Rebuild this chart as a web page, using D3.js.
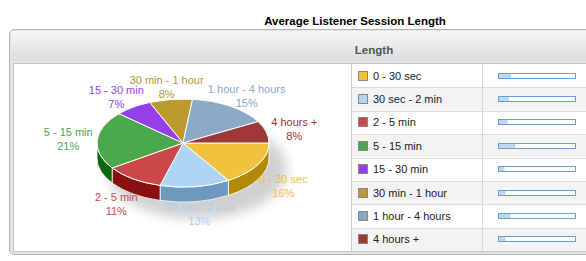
<!DOCTYPE html>
<html><head><meta charset="utf-8">
<script src="https://cdn.jsdelivr.net/npm/d3@7"></script>
<style>
html,body{margin:0;padding:0;background:#fff;}
svg{display:block;font-family:"Liberation Sans",Arial,sans-serif;}
</style></head>
<body>
<svg id="c" width="586" height="261"></svg>
<script>
const title = "Average Listener Session Length";
const columnTitle = "Length";
const categories = ["0 - 30 sec","30 sec - 2 min","2 - 5 min","5 - 15 min","15 - 30 min","30 min - 1 hour","1 hour - 4 hours","4 hours +"];
const percents = [16,13,11,21,7,8,15,8];
const topColors = ["#f0c23e","#afd5f5","#cc4848","#4ca84c","#9440e8","#bc9a30","#8aaac8","#a03838"];
const sideColors = ["#b38a05","#6f98bd","#8a0f0f","#0b690b","#6a1fb0","#8a6e18","#5f7f9c","#701818"];
const labelColors = ["#f0c040","#aed0ee","#d04a4a","#4aa84a","#9440e8","#b8962e","#8aa8c4","#a83030"];

const svg = d3.select("#c");
const defs = svg.append("defs");
const hg = defs.append("linearGradient").attr("id","hg").attr("x1",0).attr("y1",0).attr("x2",0).attr("y2",1);
hg.append("stop").attr("offset","0%").attr("stop-color","#f7f7f7");
hg.append("stop").attr("offset","100%").attr("stop-color","#dcdcdc");
const blur = defs.append("filter").attr("id","blur").attr("x","-50%").attr("y","-50%").attr("width","200%").attr("height","200%");
blur.append("feGaussianBlur").attr("stdDeviation",6);

// title
svg.append("text").attr("x",355).attr("y",25).attr("text-anchor","middle")
  .attr("font-weight","bold").attr("font-size",11.5).attr("fill","#000").text(title);

// panel
svg.append("rect").attr("x",9.5).attr("y",29.5).attr("width",640).attr("height",225).attr("rx",5)
  .attr("fill","#e4e4e4").attr("stroke","#b4b4b4");
svg.append("rect").attr("x",11).attr("y",31).attr("width",640).attr("height",30).attr("fill","url(#hg)");
svg.append("text").attr("x",374).attr("y",54).attr("text-anchor","middle").attr("font-weight","bold")
  .attr("font-size",11.5).attr("fill","#555").text(columnTitle);
svg.append("rect").attr("x",13.5).attr("y",63.5).attr("width",640).attr("height",188).attr("fill","#fff").attr("stroke","#c4c4c4");

// legend table
const y = d3.scaleBand().domain(categories).range([64,251]);
const rows = svg.append("g");
rows.selectAll("rect.bg").data(categories).join("rect").attr("class","bg")
  .attr("x",351).attr("y",d=>y(d)).attr("width",240).attr("height",y.bandwidth())
  .attr("fill",(d,i)=>i%2? "#f3f3f3":"#fff");
rows.selectAll("line.sep").data(categories.slice(1)).join("line").attr("class","sep")
  .attr("x1",351).attr("x2",590).attr("y1",d=>Math.round(y(d))+0.5).attr("y2",d=>Math.round(y(d))+0.5)
  .attr("stroke","#dcdcdc");
svg.append("line").attr("x1",351.5).attr("x2",351.5).attr("y1",64).attr("y2",251).attr("stroke","#d0d0d0");
svg.append("line").attr("x1",482.5).attr("x2",482.5).attr("y1",64).attr("y2",251).attr("stroke","#d8d8d8");
rows.selectAll("rect.sw").data(categories).join("rect").attr("class","sw")
  .attr("x",358.5).attr("y",d=>Math.round(y(d)+y.bandwidth()/2-5)+0.5).attr("width",9).attr("height",9)
  .attr("fill",(d,i)=>topColors[i]).attr("stroke","#888");
rows.selectAll("text.lg").data(categories).join("text").attr("class","lg")
  .attr("x",373).attr("y",d=>y(d)+y.bandwidth()/2+4).attr("font-size",11).attr("fill","#222").text(d=>d);
const bx = d3.scaleLinear().domain([0,100]).range([0,77]);
rows.selectAll("rect.bo").data(categories).join("rect").attr("class","bo")
  .attr("x",498.5).attr("y",d=>Math.round(y(d)+y.bandwidth()/2-3)+0.5).attr("width",bx(100)).attr("height",5)
  .attr("fill","#fff").attr("stroke","#6a9fd2");
rows.selectAll("rect.bf").data(percents).join("rect").attr("class","bf")
  .attr("x",499).attr("y",(d,i)=>Math.round(y(categories[i])+y.bandwidth()/2-3)+1).attr("width",d=>bx(d)).attr("height",4)
  .attr("fill","#bcd8f2");

// 3D pie
const cx=183, cy=143, rx=86, ry=44, depth=15;
const pie = d3.pie().sort(null).startAngle(Math.PI/2).endAngle(Math.PI/2+2*Math.PI);
const arcs = pie(percents).map((d,i)=>({a0:d.startAngle-Math.PI/2, a1:d.endAngle-Math.PI/2, i, v:d.value}));
const P = (a,dy=0)=>[cx+rx*Math.cos(a), cy+ry*Math.sin(a)+dy];

svg.append("ellipse").attr("cx",cx+14).attr("cy",cy+26).attr("rx",rx+4).attr("ry",ry+6)
  .attr("fill","#000").attr("opacity",0.18).attr("filter","url(#blur)");

const g = svg.append("g");
arcs.forEach(d=>{
  const s=Math.max(d.a0,0), e=Math.min(d.a1,Math.PI);
  if(s<e){
    const p1=P(s),p2=P(e),p3=P(e,depth),p4=P(s,depth);
    g.append("path").attr("d",`M${p1}A${rx},${ry} 0 0 1 ${p2}L${p3}A${rx},${ry} 0 0 0 ${p4}Z`)
      .attr("fill",sideColors[d.i]).attr("stroke","#fff").attr("stroke-width",0.8);
  }
});
arcs.forEach(d=>{
  const large = (d.a1-d.a0)>Math.PI?1:0;
  g.append("path").attr("d",`M${cx},${cy}L${P(d.a0)}A${rx},${ry} 0 ${large} 1 ${P(d.a1)}Z`)
    .attr("fill",topColors[d.i]).attr("stroke","#fff").attr("stroke-width",1).attr("stroke-linejoin","round");
});
// labels
const lrx=115, lry=57;
arcs.forEach(d=>{
  const m=(d.a0+d.a1)/2;
  const lx=cx+lrx*Math.cos(m), ly=cy+lry*Math.sin(m)+(Math.sin(m)>0?depth:0);
  const t=g.append("text").attr("text-anchor","middle").attr("font-size",11).attr("fill",labelColors[d.i]);
  t.append("tspan").attr("x",lx).attr("y",ly-3).text(categories[d.i]);
  t.append("tspan").attr("x",lx).attr("y",ly+11).text(d.v+"%");
});
</script>
</body></html>
